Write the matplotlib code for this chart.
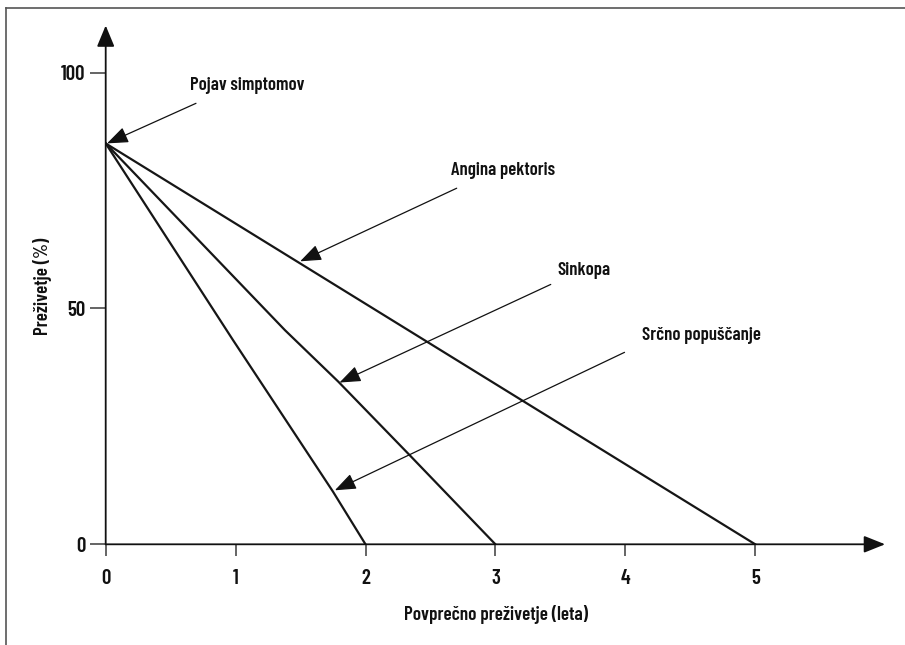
import matplotlib
matplotlib.use("Agg")
import matplotlib.pyplot as plt
from matplotlib.lines import Line2D

plt.rcParams['font.family'] = ['Barlow Condensed', 'DejaVu Sans']
plt.rcParams['font.weight'] = 600

# ---- data ----
angina_x = [0, 5]
angina_y = [85, 0]
sinkopa_x = [0, 1.38, 1.79, 2.34, 3.0]
sinkopa_y = [85, 45.4, 34.5, 18.9, 0]
srcno_x = [0, 0.98, 1.75, 2.0]
srcno_y = [85, 43.3, 11.15, 0]

x_ticks = [0, 1, 2, 3, 4, 5]
y_ticks = [0, 50, 100]

labels = ["Pojav simptomov", "Angina pektoris", "Sinkopa", "Srčno popuščanje"]
x_label = "Povprečno preživetje (leta)"
y_label = "Preživetje (%)"

W, H = 905, 645
fig = plt.figure(figsize=(W / 100, H / 100), dpi=100)
ax = fig.add_axes([105.7 / W, (H - 544.3) / H, 779.4 / W, 518.8 / H])
ax.set_xlim(0, 6.0)
ax.set_ylim(0, 110)
for s in ax.spines.values():
    s.set_visible(False)

axis_col = '#4a4a4a'
ax.annotate('', xy=(6.0, 0), xytext=(0, 0), xycoords='data',
            arrowprops=dict(arrowstyle='-|>,head_length=0.65,head_width=0.26',
                            mutation_scale=20, lw=1.3, color=axis_col,
                            fc='#111111', ec='#111111', shrinkA=0, shrinkB=0),
            annotation_clip=False)
ax.annotate('', xy=(0, 110), xytext=(0, 0), xycoords='data',
            arrowprops=dict(arrowstyle='-|>,head_length=0.65,head_width=0.27',
                            mutation_scale=20, lw=1.3, color=axis_col,
                            fc='#111111', ec='#111111', shrinkA=0, shrinkB=0),
            annotation_clip=False)

ax.set_xticks(x_ticks)
ax.set_xticklabels([str(t) for t in x_ticks])
ax.set_yticks(y_ticks)
ax.set_yticklabels([str(t) for t in y_ticks])
ax.tick_params(axis='x', direction='out', length=8.8, width=1.2, color=axis_col,
               pad=9, labelsize=15, labelcolor='#111111')
ax.tick_params(axis='y', direction='out', length=11.8, width=1.2, color=axis_col,
               pad=3, labelsize=15, labelcolor='#111111')

line_col = '#161616'
ax.plot(angina_x, angina_y, color=line_col, lw=1.6, solid_joinstyle='round')
ax.plot(sinkopa_x, sinkopa_y, color=line_col, lw=1.6, solid_joinstyle='round')
ax.plot(srcno_x, srcno_y, color=line_col, lw=1.6, solid_joinstyle='round')

arrow_kw = dict(arrowstyle='-|>,head_length=0.65,head_width=0.25',
                mutation_scale=20, lw=0.9, color='#111111', shrinkA=0, shrinkB=0)

ann = [
    ((0.695, 93.5), (0.01, 85.0)),
    ((2.702, 75.5), (1.497, 60.0)),
    ((3.426, 55.1), (1.80, 34.3)),
    ((3.994, 40.7), (1.764, 11.45)),
]
for tail, tip in ann:
    ax.annotate('', xy=tip, xytext=tail, arrowprops=arrow_kw, annotation_clip=False)

text_pos = [(0.649, 96.3), (2.658, 78.3), (3.477, 57.1), (4.126, 43.3)]
for lab, (tx, ty) in zip(labels, text_pos):
    ax.text(tx, ty, lab, fontsize=13.5, ha='left', va='baseline', color='#111111')

fig.text(495.6 / W, 1 - 615 / H, x_label, fontsize=13.8, ha='center', va='center',
         color='#111111')
fig.text(42 / W, 1 - 286 / H, y_label, fontsize=13.8, ha='center', va='center',
         rotation=90, color='#111111')

fig.add_artist(Line2D([6 / W, 6 / W], [0, 1 - 8 / H], transform=fig.transFigure,
                      color='#555555', lw=1.2))
fig.add_artist(Line2D([6 / W, 1], [1 - 8 / H, 1 - 8 / H], transform=fig.transFigure,
                      color='#555555', lw=1.2))

fig.savefig('out.png', dpi=100, facecolor='white')
